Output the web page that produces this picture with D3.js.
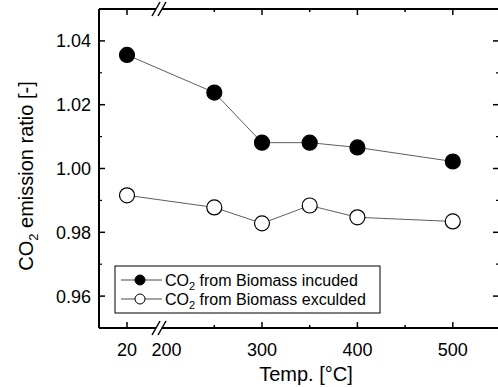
<!DOCTYPE html>
<html>
<head>
<meta charset="utf-8">
<script src="https://cdn.jsdelivr.net/npm/d3@7"></script>
<style>
  body { margin: 0; background: #fff; }
  text { font-family: "Liberation Sans", Arial, sans-serif; fill: #000; }
</style>
</head>
<body>
<div id="chart"></div>
<script>
// temperatures (20 = room temperature, before the axis break)
const temps = [20, 250, 300, 350, 400, 500];
const included = [1.0356, 1.0238, 1.0081, 1.0081, 1.0066, 1.0022];
const excluded = [0.9916, 0.9878, 0.9828, 0.9884, 0.9847, 0.9834];
const seriesNames = ["from Biomass incuded", "from Biomass exculded"];
const xTickLabels = [20, 200, 300, 400, 500];
const xTicks = [20, 250, 300, 350, 400, 450, 500];
const yMajor = [0.96, 0.98, 1.00, 1.02, 1.04];
const yMinor = [0.97, 0.99, 1.01, 1.03];

const W = 498, H = 387;
const svg = d3.select("#chart").append("svg")
  .attr("width", W).attr("height", H);

const pLeft = 99, pRight = 499, pTop = 9, pBottom = 328;

// piecewise x scale: compressed region before the break
const x = d3.scaleLinear()
  .domain([0, 20, 200, 550])
  .range([pLeft, 127, 166.6, 500.5]);
const y = d3.scaleLinear().domain([0.95, 1.05]).range([pBottom, pTop]);

const axes = svg.append("g").attr("stroke", "#000").attr("fill", "none");

// frame (right edge falls just outside the picture)
axes.append("line").attr("x1", pLeft).attr("x2", pLeft).attr("y1", pTop).attr("y2", pBottom).attr("stroke-width", 2);
axes.append("line").attr("x1", pLeft).attr("x2", pRight).attr("y1", pBottom).attr("y2", pBottom).attr("stroke-width", 2);
axes.append("line").attr("x1", pLeft).attr("x2", pRight).attr("y1", pTop).attr("y2", pTop).attr("stroke-width", 2);
axes.append("line").attr("x1", pRight).attr("x2", pRight).attr("y1", pTop).attr("y2", pBottom).attr("stroke-width", 2);

// y ticks (inward, both sides)
yMajor.forEach(v => {
  axes.append("line").attr("x1", pLeft).attr("x2", pLeft + 6).attr("y1", y(v)).attr("y2", y(v)).attr("stroke-width", 1.5);
  axes.append("line").attr("x1", pRight).attr("x2", pRight - 6).attr("y1", y(v)).attr("y2", y(v)).attr("stroke-width", 1.5);
});
yMinor.forEach(v => {
  axes.append("line").attr("x1", pLeft).attr("x2", pLeft + 3).attr("y1", y(v)).attr("y2", y(v)).attr("stroke-width", 1.2);
  axes.append("line").attr("x1", pRight).attr("x2", pRight - 3).attr("y1", y(v)).attr("y2", y(v)).attr("stroke-width", 1.2);
});

// x ticks (inward, top and bottom)
xTicks.forEach(v => {
  const len = (v % 100 === 0 || v === 20) ? 6 : 3;
  axes.append("line").attr("x1", x(v)).attr("x2", x(v)).attr("y1", pBottom).attr("y2", pBottom - len).attr("stroke-width", 1.5);
  axes.append("line").attr("x1", x(v)).attr("x2", x(v)).attr("y1", pTop).attr("y2", pTop + len).attr("stroke-width", 1.5);
});

// axis break marks
[pTop, pBottom].forEach(yy => {
  const bx = 159;
  svg.append("rect").attr("x", bx - 3).attr("y", yy - 3).attr("width", 6).attr("height", 6).attr("fill", "#fff");
  [-3, 3].forEach(dx => {
    svg.append("line")
      .attr("x1", bx + dx - 4).attr("y1", yy + 7)
      .attr("x2", bx + dx + 4).attr("y2", yy - 7)
      .attr("stroke", "#000").attr("stroke-width", 1.5);
  });
});

// tick labels
svg.selectAll(".ylab").data(yMajor).join("text")
  .attr("x", 91).attr("y", d => y(d) + 6.5)
  .attr("text-anchor", "end").style("font-size", "18px")
  .text(d => d.toFixed(2));

svg.selectAll(".xlab").data(xTickLabels).join("text")
  .attr("x", d => x(d)).attr("y", 356)
  .attr("text-anchor", "middle").style("font-size", "18px")
  .text(d => d);

// axis titles
svg.append("text")
  .attr("x", 306).attr("y", 381)
  .attr("text-anchor", "middle").style("font-size", "20px")
  .text("Temp. [\u00B0C]");

const yt = svg.append("text")
  .attr("transform", "translate(33,176) rotate(-90)")
  .attr("text-anchor", "middle").style("font-size", "20px");
yt.append("tspan").text("CO");
yt.append("tspan").attr("dy", 5).style("font-size", "13px").text("2");
yt.append("tspan").attr("dy", -5).text(" emission ratio [-]");

// series
const line = d3.line().x((d, i) => x(temps[i])).y(d => y(d));
const series = [
  { vals: included, fill: "#000" },
  { vals: excluded, fill: "#fff" }
];
series.forEach(s => {
  svg.append("path").datum(s.vals).attr("d", line)
    .attr("fill", "none").attr("stroke", "#333").attr("stroke-width", 0.8);
  svg.selectAll(null).data(s.vals).join("circle")
    .attr("cx", (d, i) => x(temps[i])).attr("cy", d => y(d))
    .attr("r", 7.5)
    .attr("fill", s.fill).attr("stroke", "#000").attr("stroke-width", 1.2);
});

// legend
const lg = svg.append("g");
lg.append("rect").attr("x", 115).attr("y", 266).attr("width", 265).attr("height", 47)
  .attr("fill", "#fff").attr("stroke", "#000").attr("stroke-width", 1);
series.forEach((s, i) => {
  const cy = 280 + i * 19;
  lg.append("line").attr("x1", 121).attr("x2", 162).attr("y1", cy).attr("y2", cy)
    .attr("stroke", "#333").attr("stroke-width", 0.9);
  lg.append("circle").attr("cx", 140).attr("cy", cy).attr("r", 5)
    .attr("fill", s.fill).attr("stroke", "#000").attr("stroke-width", 1);
  const t = lg.append("text").attr("x", 165).attr("y", cy + 5.5).style("font-size", "16px");
  t.append("tspan").text("CO");
  t.append("tspan").attr("dy", 4).style("font-size", "11px").text("2");
  t.append("tspan").attr("dy", -4).text(" " + seriesNames[i]);
});
</script>
</body>
</html>
